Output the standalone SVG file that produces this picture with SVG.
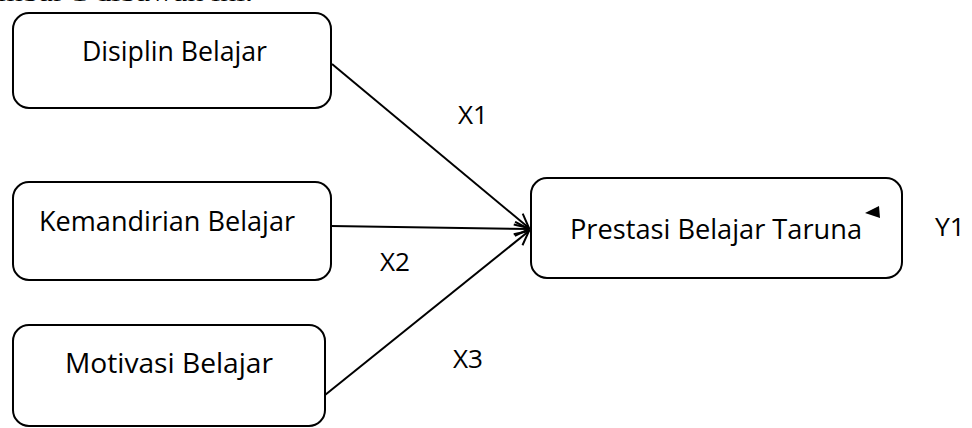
<svg xmlns="http://www.w3.org/2000/svg" width="972" height="428" viewBox="0 0 972 428">
<style>
.box{fill:#fff;stroke:#000;stroke-width:2}
.t{font-family:"Open Sans","Noto Sans","Liberation Sans",sans-serif;font-size:27px;fill:#000}
.lbl{font-family:"Open Sans","Noto Sans","Liberation Sans",sans-serif;font-size:26px;fill:#000}
.c{stroke:#000;stroke-width:2;fill:none}
</style>
<defs>
<marker id="arr" viewBox="0 0 16 16" refX="15" refY="8" markerWidth="16" markerHeight="16" markerUnits="userSpaceOnUse" orient="auto">
<path d="M1,1 L15,8 L1,15" fill="none" stroke="#000" stroke-width="2"/>
</marker>
</defs>
<rect width="972" height="428" fill="#fff"/>
<text x="-2" y="1" font-family="Liberation Serif,serif" font-size="21" textLength="255" lengthAdjust="spacingAndGlyphs">mbar 1 dibawah ini.</text>
<g id="connectors">
<line class="c" x1="332" y1="64" x2="529" y2="228" marker-end="url(#arr)"/>
<line class="c" x1="331" y1="226" x2="529" y2="229" marker-end="url(#arr)"/>
<line class="c" x1="325" y1="395" x2="529" y2="231" marker-end="url(#arr)"/>
</g>
<g id="node-disiplin">
<rect class="box" x="13" y="13" width="318" height="95" rx="16"/>
<text class="t" x="82" y="61" textLength="185" lengthAdjust="spacingAndGlyphs">Disiplin Belajar</text>
</g>
<g id="node-kemandirian">
<rect class="box" x="13" y="182" width="318" height="98" rx="16"/>
<text class="t" x="39" y="231" textLength="256" lengthAdjust="spacingAndGlyphs">Kemandirian Belajar</text>
</g>
<g id="node-motivasi">
<rect class="box" x="13" y="325" width="312" height="101" rx="16"/>
<text class="t" x="65" y="373" textLength="208" lengthAdjust="spacingAndGlyphs">Motivasi Belajar</text>
</g>
<g id="node-prestasi">
<rect class="box" x="531" y="178" width="371" height="100" rx="16"/>
<text class="t" x="570" y="239" textLength="292" lengthAdjust="spacingAndGlyphs">Prestasi Belajar Taruna</text>
<polygon points="879,206 865,213 880,218" fill="#000"/>
</g>
<g id="labels">
<text class="lbl" x="458" y="124" textLength="30" lengthAdjust="spacingAndGlyphs">X1</text>
<text class="lbl" x="380" y="271" textLength="30" lengthAdjust="spacingAndGlyphs">X2</text>
<text class="lbl" x="453" y="368" textLength="30" lengthAdjust="spacingAndGlyphs">X3</text>
<text class="lbl" x="935" y="236" textLength="30" lengthAdjust="spacingAndGlyphs">Y1</text>
</g>
</svg>
